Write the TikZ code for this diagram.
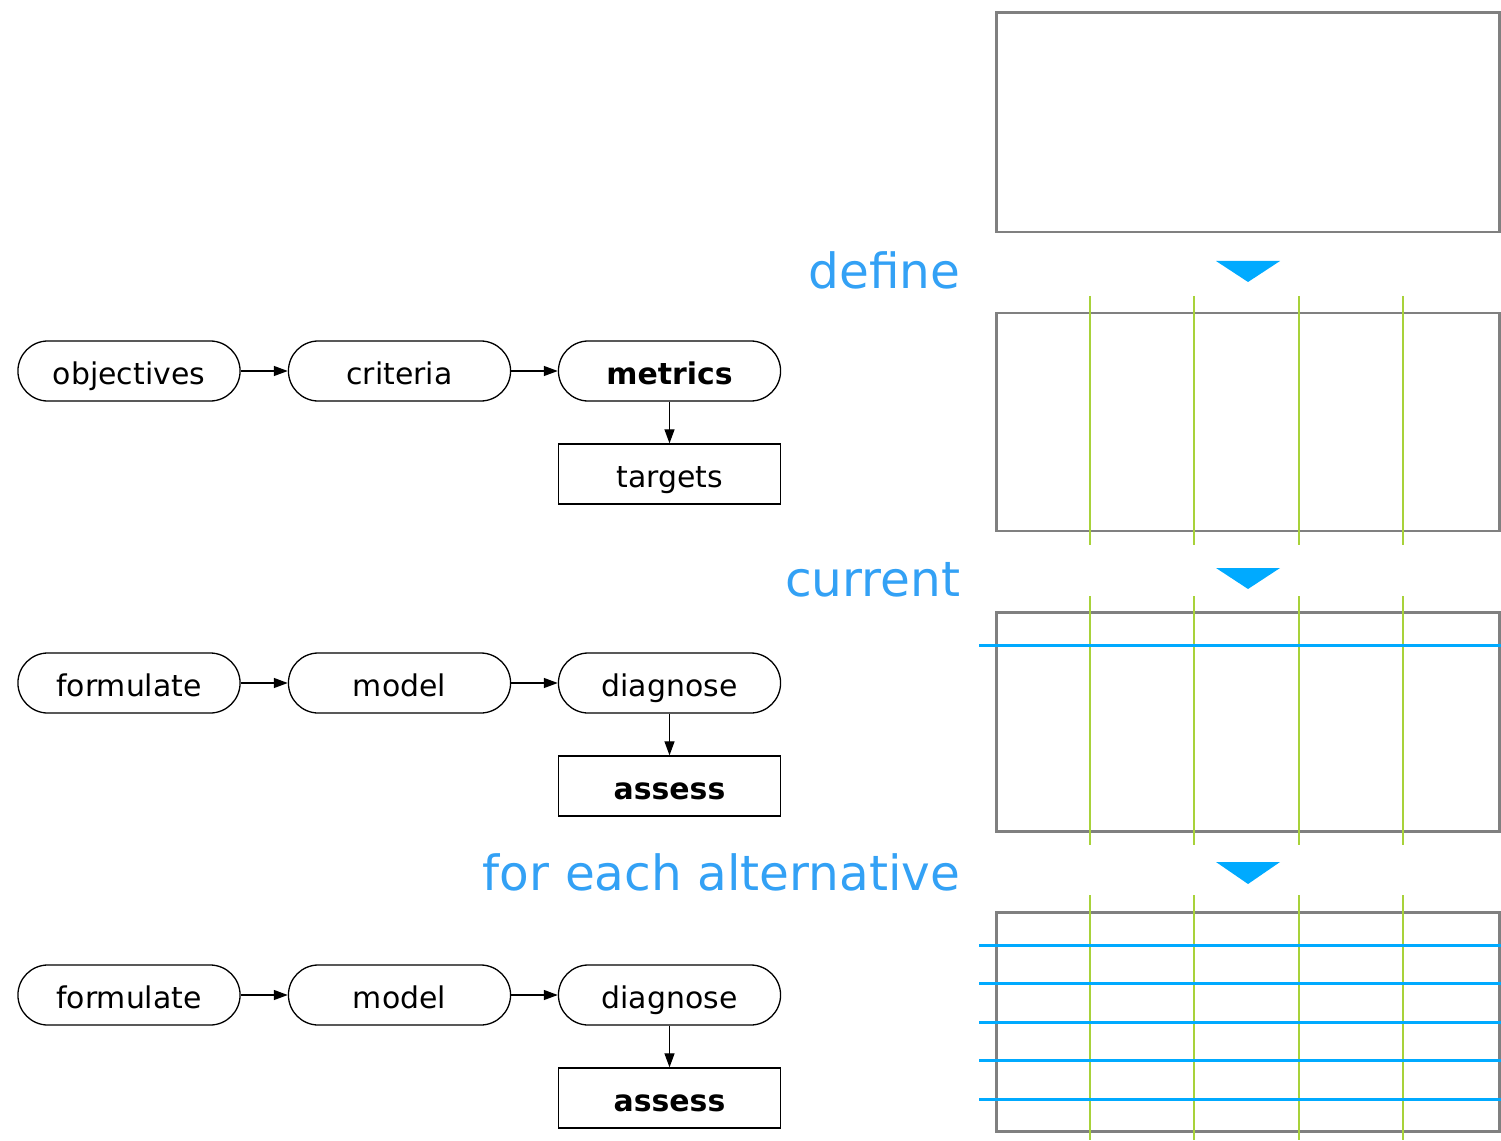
\documentclass[tikz,border=0pt]{standalone}
\usepackage{fontspec}
\setmainfont{DejaVu Sans}
\usetikzlibrary{arrows.meta}
\definecolor{gridgray}{RGB}{128,128,128}
\definecolor{lgreen}{RGB}{168,210,58}
\definecolor{lblue}{RGB}{0,170,255}
\definecolor{tblue}{RGB}{51,161,245}
\tikzset{
  pill/.style={draw=black, line width=0.37pt, rounded corners=0.3cm, minimum width=2.22cm, minimum height=0.6cm, inner sep=0pt, text height=0.76em, text depth=0pt, font=\fontsize{8.5}{10}\selectfont},
  sqbox/.style={draw=black, line width=0.37pt, minimum width=2.22cm, minimum height=0.6cm, inner sep=0pt, text height=0.76em, text depth=0pt, font=\fontsize{8.5}{10}\selectfont},
  flow/.style={line width=0.37pt, -{Triangle[length=0.14cm,width=0.1cm]}},
  panel/.style={draw=gridgray, line width=0.85pt},
  vline/.style={draw=lgreen, line width=0.75pt},
  hline/.style={draw=lblue, line width=0.85pt},
  tri/.style={fill=lblue, draw=none},
  steplabel/.style={anchor=base east, text=tblue, inner sep=0pt, font=\fontsize{13.8}{16}\selectfont}
}
\begin{document}
\begin{tikzpicture}[x=0.01cm, y=-0.01cm]
\useasboundingbox (0,0) rectangle (1501,1140);
% ---------- right panels ----------
\draw[panel] (996,13) rectangle (1499,232);
\draw[panel] (996,313) rectangle (1499,531);
\draw[panel] (996,612) rectangle (1499,831);
\draw[panel] (996,912) rectangle (1499,1131);
% green verticals
\foreach \x in {1090,1194,1299,1403} {
  \draw[vline] (\x,296) -- (\x,545);
  \draw[vline] (\x,596) -- (\x,845);
  \draw[vline] (\x,895) -- (\x,1140);
}
% blue horizontals
\draw[hline] (979,645) -- (1501,645);
\foreach \y in {945,983,1022,1060,1099} {
  \draw[hline] (979,\y) -- (1501,\y);
}
% triangles
\fill[tri] (1216,261) -- (1280,261) -- (1248,282) -- cycle;
\fill[tri] (1216,568) -- (1280,568) -- (1248,589) -- cycle;
\fill[tri] (1216,862) -- (1280,862) -- (1248,884) -- cycle;
% labels
\node[steplabel] (ldefine) at (961,288) {define};
\node[steplabel] (lcurrent) at (961,596) {current};
\node[steplabel] (lalt) at (961,890) {for each alternative};
% ---------- row 1 ----------
\node[pill] (obj) at (129,371) {objectives};
\node[pill] (crit) at (399.5,371) {criteria};
\node[pill] (met) at (669.5,371) {\textbf{metrics}};
\node[sqbox] (tgt) at (669.5,474) {targets};
\draw[flow] (obj) -- (crit);
\draw[flow] (crit) -- (met);
\draw[flow] (met) -- (tgt);
% ---------- row 2 ----------
\node[pill] (form1) at (129,683) {formulate};
\node[pill] (mod1) at (399.5,683) {model};
\node[pill] (diag1) at (669.5,683) {diagnose};
\node[sqbox] (ass1) at (669.5,786) {\textbf{assess}};
\draw[flow] (form1) -- (mod1);
\draw[flow] (mod1) -- (diag1);
\draw[flow] (diag1) -- (ass1);
% ---------- row 3 ----------
\node[pill] (form2) at (129,995) {formulate};
\node[pill] (mod2) at (399.5,995) {model};
\node[pill] (diag2) at (669.5,995) {diagnose};
\node[sqbox] (ass2) at (669.5,1098) {\textbf{assess}};
\draw[flow] (form2) -- (mod2);
\draw[flow] (mod2) -- (diag2);
\draw[flow] (diag2) -- (ass2);
\end{tikzpicture}
\end{document}
